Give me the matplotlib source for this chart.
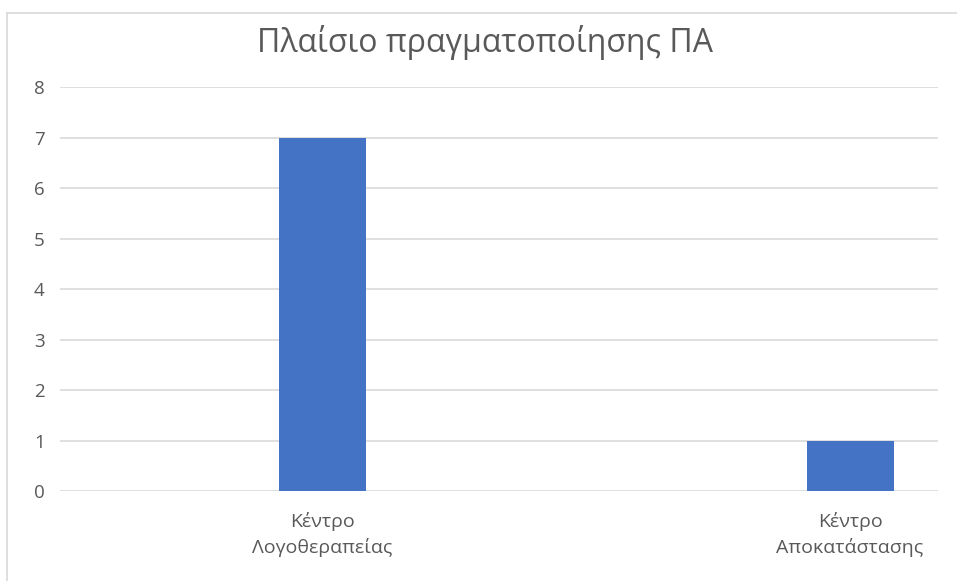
import matplotlib.pyplot as plt
from matplotlib.lines import Line2D

categories = ['Κέντρο\nΛογοθεραπείας', 'Κέντρο\nΑποκατάστασης']
values = [7, 1]
yticks = [0, 1, 2, 3, 4, 5, 6, 7, 8]

plt.rcParams['font.family'] = ['Open Sans', 'DejaVu Sans']

W, H = 957, 581
fig = plt.figure(figsize=(W / 100, H / 100), dpi=100)
ax = fig.add_axes([60 / W, 1 - 491 / H, (938 - 60) / W, (491 - 87) / H])

x = list(range(len(categories)))
ax.bar(x, values, width=87 / 528, color='#4472C4', zorder=3)
ax.set_xlim((60 - 322) / 528, (938 - 322) / 528)
ax.set_ylim(0, 8)
ax.set_yticks(yticks)
ax.set_xticks(x)
ax.set_xticklabels(categories, fontsize=14, color='#595959', linespacing=1.5)
ax.tick_params(axis='y', labelsize=13.5, labelcolor='#595959', length=0, pad=11)
ax.tick_params(axis='x', length=0, pad=15)
ax.grid(axis='y', color='#d9d9d9', linewidth=1.2, zorder=0)
for s in ax.spines.values():
    s.set_visible(False)

fig.text(485 / W, 1 - 42 / H, 'Πλαίσιο πραγματοποίησης ΠΑ', ha='center', va='center',
         fontsize=23, color='#595959')

# chart border (top and left only, the rest is cropped)
fig.add_artist(Line2D([7 / W, 1], [1 - 13 / H, 1 - 13 / H], color='#d9d9d9', lw=1.2))
fig.add_artist(Line2D([7 / W, 7 / W], [0, 1 - 13 / H], color='#d9d9d9', lw=1.2))

fig.savefig('out.png', dpi=100, facecolor='white')
